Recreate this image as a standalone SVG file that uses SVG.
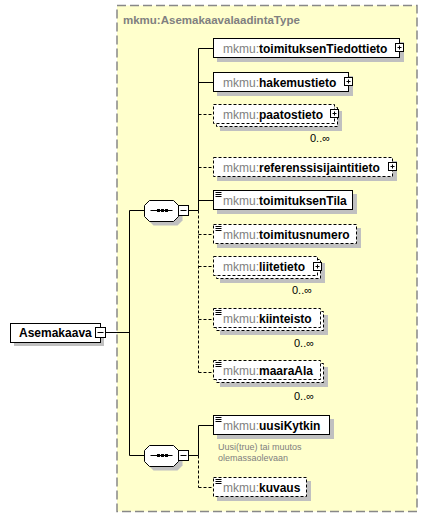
<svg xmlns="http://www.w3.org/2000/svg" width="428" height="518" viewBox="0 0 428 518">
<style>
text{font-family:"Liberation Sans",Arial,sans-serif}
.ns{fill:#808080;font-weight:normal}
.nm{fill:#000;font-weight:bold}
.lbl{font-size:12px}
.box{fill:#fff;stroke:#000;stroke-width:1}
.dbox{fill:#fff;stroke:#000;stroke-width:1;stroke-dasharray:3 2}
.sh{fill:#c0c0c0}
.ln{stroke:#000;stroke-width:1;fill:none}
.dl{stroke:#000;stroke-width:1;fill:none;stroke-dasharray:3 2}
.card{font-size:11px;fill:#000}
.doc{font-size:9px;fill:#808080}
.ico{fill:#fff;stroke:#000;stroke-width:1}
</style>
<defs>
<g id="plus"><rect class="ico" x="-4" y="-4" width="8" height="8"/><path class="ln" d="M-2 0H2M0 -2V2"/></g>
<g id="minus"><rect class="ico" x="-5" y="-5" width="10" height="10"/><path class="ln" d="M-3 0H3"/></g>
<g id="lines"><path stroke="#000" stroke-width="1" d="M2 2H8M2 4H8M2 6H8"/></g>
<g id="seq">
<polygon points="9,4 33,4 38,9 38,20 33,25 9,25 4,20 4,9" fill="#c0c0c0"/>
<polygon points="5,0 29,0 34,5 34,16 29,21 5,21 0,16 0,5" fill="#fff" stroke="#000"/>
<path class="ln" d="M6 10H28"/>
<rect x="12.5" y="8.5" width="3" height="3" fill="#000"/><rect x="16.5" y="8.5" width="3" height="3" fill="#000"/><rect x="20.5" y="8.5" width="3" height="3" fill="#000"/>
<rect class="ico" x="34" y="5" width="10" height="10"/><path class="ln" d="M36 10H42"/>
</g>
</defs>

<g id="type">
<rect x="117" y="5.5" width="300" height="506" fill="#ffffcc" stroke="#888" stroke-width="1.5" stroke-dasharray="9 4"/>
<text x="123" y="24" font-size="11.5px" font-weight="bold" fill="#808080">mkmu:AsemakaavalaadintaType</text>
</g>

<g id="connectors">
<path class="ln" d="M105 332.5H129.5M129.5 210.5V455.5M129.5 210.5H144M129.5 455.5H144"/>
<path class="ln" d="M189 210.5H198.5M198.5 48.5V210.5M198.5 48.5H213M198.5 82.5H213M198.5 200.5H213"/>
<path class="dl" d="M198.5 210.5V372.5M198.5 114.5H213M198.5 167.5H213M198.5 234.5H213M198.5 266.5H213M198.5 319.5H213M198.5 372.5H213"/>
<path class="ln" d="M189 455.5H198.5M198.5 425.5V455.5M198.5 425.5H213"/>
<path class="dl" d="M198.5 455.5V487.5M198.5 487.5H213"/>
</g>

<g id="Asemakaava">
<rect class="sh" x="14" y="327" width="90" height="19"/>
<rect class="box" x="10.5" y="323.5" width="90" height="19"/>
<text x="19" y="337" class="lbl nm">Asemakaava</text>
<use href="#minus" x="100.5" y="332.5"/>
</g>

<g id="seq1"><use href="#seq" x="144.5" y="200.5"/></g>
<g id="seq2"><use href="#seq" x="144.5" y="445.5"/></g>

<g id="toimituksenTiedottieto">
<rect class="sh" x="217" y="42" width="187" height="20"/>
<rect class="box" x="213.5" y="38.5" width="186" height="19"/>
<text x="223" y="52.5" class="lbl"><tspan class="ns">mkmu:</tspan><tspan class="nm">toimituksenTiedottieto</tspan></text>
<use href="#plus" x="399.5" y="47.5"/>
</g>

<g id="hakemustieto">
<rect class="sh" x="217" y="76" width="136" height="20"/>
<rect class="box" x="213.5" y="72.5" width="135" height="19"/>
<text x="223" y="86.5" class="lbl"><tspan class="ns">mkmu:</tspan><tspan class="nm">hakemustieto</tspan></text>
<use href="#plus" x="348.5" y="81.5"/>
</g>

<g id="paatostieto">
<rect class="sh" x="220" y="111" width="122" height="20"/>
<rect class="dbox" x="216.5" y="107.5" width="121" height="19"/>
<rect class="dbox" x="213.5" y="104.5" width="121" height="19"/>
<text x="223" y="118.5" class="lbl"><tspan class="ns">mkmu:</tspan><tspan class="nm">paatostieto</tspan></text>
<use href="#plus" x="334.5" y="113.5"/>
<text x="310" y="142" class="card">0..∞</text>
</g>

<g id="referenssisijaintitieto">
<rect class="sh" x="217" y="161" width="180" height="20"/>
<rect class="dbox" x="213.5" y="157.5" width="179" height="19"/>
<text x="223" y="171.5" class="lbl"><tspan class="ns">mkmu:</tspan><tspan class="nm">referenssisijaintitieto</tspan></text>
<use href="#plus" x="392.5" y="166.5"/>
</g>

<g id="toimituksenTila">
<rect class="sh" x="217" y="194" width="140" height="20"/>
<rect class="box" x="213.5" y="190.5" width="139" height="19"/>
<use href="#lines" x="213.5" y="190.5"/>
<text x="223" y="204.5" class="lbl"><tspan class="ns">mkmu:</tspan><tspan class="nm">toimituksenTila</tspan></text>
</g>

<g id="toimitusnumero">
<rect class="sh" x="217" y="228" width="144" height="20"/>
<rect class="dbox" x="213.5" y="224.5" width="143" height="19"/>
<use href="#lines" x="213.5" y="224.5"/>
<text x="223" y="238.5" class="lbl"><tspan class="ns">mkmu:</tspan><tspan class="nm">toimitusnumero</tspan></text>
</g>

<g id="liitetieto">
<rect class="sh" x="220" y="263" width="105" height="20"/>
<rect class="dbox" x="216.5" y="259.5" width="104" height="19"/>
<rect class="dbox" x="213.5" y="256.5" width="104" height="19"/>
<text x="223" y="270.5" class="lbl"><tspan class="ns">mkmu:</tspan><tspan class="nm">liitetieto</tspan></text>
<use href="#plus" x="317.5" y="266.5"/>
<text x="292" y="294" class="card">0..∞</text>
</g>

<g id="kiinteisto">
<rect class="sh" x="220" y="315" width="108" height="20"/>
<rect class="dbox" x="216.5" y="311.5" width="107" height="19"/>
<rect class="dbox" x="213.5" y="308.5" width="107" height="19"/>
<use href="#lines" x="213.5" y="308.5"/>
<text x="223" y="323" class="lbl"><tspan class="ns">mkmu:</tspan><tspan class="nm">kiinteisto</tspan></text>
<text x="294" y="347" class="card">0..∞</text>
</g>

<g id="maaraAla">
<rect class="sh" x="220" y="367" width="108" height="20"/>
<rect class="dbox" x="216.5" y="363.5" width="107" height="19"/>
<rect class="dbox" x="213.5" y="360.5" width="107" height="19"/>
<use href="#lines" x="213.5" y="360.5"/>
<text x="223" y="375" class="lbl"><tspan class="ns">mkmu:</tspan><tspan class="nm">maaraAla</tspan></text>
<text x="294" y="400" class="card">0..∞</text>
</g>

<g id="uusiKytkin">
<rect class="sh" x="217" y="419" width="117" height="20"/>
<rect class="box" x="213.5" y="415.5" width="116" height="19"/>
<use href="#lines" x="213.5" y="415.5"/>
<text x="223" y="429.5" class="lbl"><tspan class="ns">mkmu:</tspan><tspan class="nm">uusiKytkin</tspan></text>
<text x="218" y="450" class="doc">Uusi(true) tai muutos</text>
<text x="218" y="461" class="doc">olemassaolevaan</text>
</g>

<g id="kuvaus">
<rect class="sh" x="217" y="481" width="94" height="20"/>
<rect class="dbox" x="213.5" y="477.5" width="93" height="19"/>
<use href="#lines" x="213.5" y="477.5"/>
<text x="223" y="491.5" class="lbl"><tspan class="ns">mkmu:</tspan><tspan class="nm">kuvaus</tspan></text>
</g>
</svg>
